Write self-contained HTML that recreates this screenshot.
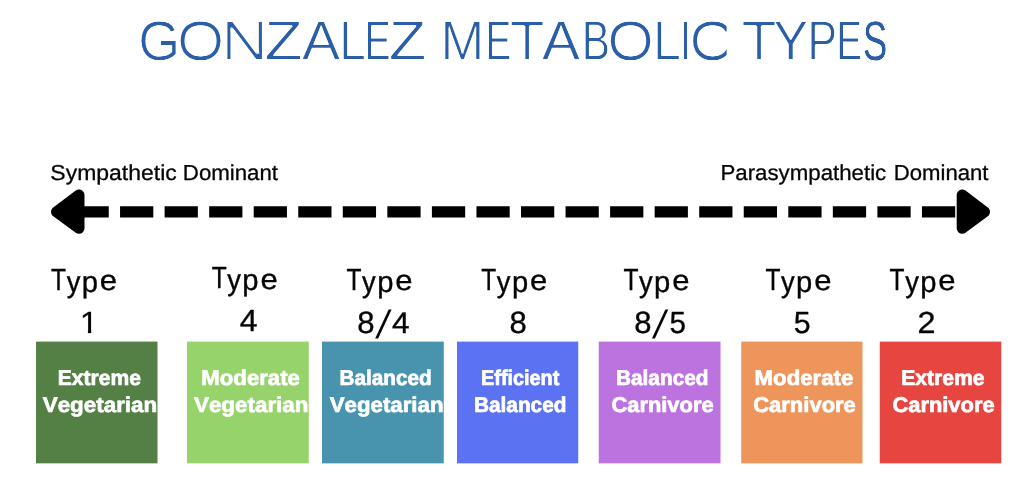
<!DOCTYPE html>
<html lang="en"><head><meta charset="utf-8"><title>Gonzalez Metabolic Types</title>
<style>
html,body{margin:0;padding:0;background:#fff;}
body{width:1024px;height:495px;overflow:hidden;}
svg{display:block;will-change:transform;font-family:"Liberation Sans",sans-serif;font-kerning:none;}
svg text{white-space:pre;text-rendering:geometricPrecision;}
</style></head><body>
<svg width="1024" height="495" viewBox="0 0 1024 495">
<rect width="1024" height="495" fill="#fff"/>
<defs><clipPath id="a0"><text transform="translate(138.78 59.70) scale(0.9727 1)" font-size="55.67">G</text></clipPath><clipPath id="b0"><text transform="translate(138.15 59.80) scale(0.9727 1)" font-size="55.67">G</text></clipPath><clipPath id="c0"><text transform="translate(138.15 59.60) scale(0.9727 1)" font-size="55.67">G</text></clipPath>
<clipPath id="a1"><text transform="translate(177.70 59.70) scale(1.1003 1)" font-size="55.67">O</text></clipPath><clipPath id="b1"><text transform="translate(176.74 59.80) scale(1.1003 1)" font-size="55.67">O</text></clipPath><clipPath id="c1"><text transform="translate(176.74 59.60) scale(1.1003 1)" font-size="55.67">O</text></clipPath>
<clipPath id="a2"><text transform="translate(221.97 59.70) scale(1.1890 1)" font-size="55.67">N</text></clipPath><clipPath id="b2"><text transform="translate(220.68 60.20) scale(1.1890 1)" font-size="55.67">N</text></clipPath><clipPath id="c2"><text transform="translate(220.68 59.20) scale(1.1890 1)" font-size="55.67">N</text></clipPath>
<clipPath id="a3"><text transform="translate(265.05 59.70) scale(1.1050 1)" font-size="55.67">Z</text></clipPath><clipPath id="b3"><text transform="translate(264.75 60.20) scale(1.1050 1)" font-size="55.67">Z</text></clipPath><clipPath id="c3"><text transform="translate(264.75 59.20) scale(1.1050 1)" font-size="55.67">Z</text></clipPath>
<clipPath id="a4"><text transform="translate(302.19 59.70) scale(1.0403 1)" font-size="55.67">A</text></clipPath><clipPath id="b4"><text transform="translate(301.74 60.20) scale(1.0403 1)" font-size="55.67">A</text></clipPath><clipPath id="c4"><text transform="translate(301.74 59.20) scale(1.0403 1)" font-size="55.67">A</text></clipPath>
<clipPath id="a5"><text transform="translate(339.78 59.70) scale(0.8577 1)" font-size="55.67">L</text></clipPath><clipPath id="b5"><text transform="translate(339.31 60.20) scale(0.8577 1)" font-size="55.67">L</text></clipPath><clipPath id="c5"><text transform="translate(339.31 59.20) scale(0.8577 1)" font-size="55.67">L</text></clipPath>
<clipPath id="a6"><text transform="translate(364.60 59.70) scale(0.7005 1)" font-size="55.67">E</text></clipPath><clipPath id="b6"><text transform="translate(364.53 60.20) scale(0.7005 1)" font-size="55.67">E</text></clipPath><clipPath id="c6"><text transform="translate(364.53 59.20) scale(0.7005 1)" font-size="55.67">E</text></clipPath>
<clipPath id="a7"><text transform="translate(389.28 59.70) scale(1.0886 1)" font-size="55.67">Z</text></clipPath><clipPath id="b7"><text transform="translate(388.98 60.20) scale(1.0886 1)" font-size="55.67">Z</text></clipPath><clipPath id="c7"><text transform="translate(388.98 59.20) scale(1.0886 1)" font-size="55.67">Z</text></clipPath>
<clipPath id="a8"><text transform="translate(441.07 59.70) scale(0.9486 1)" font-size="55.67">M</text></clipPath><clipPath id="b8"><text transform="translate(440.41 60.20) scale(0.9486 1)" font-size="55.67">M</text></clipPath><clipPath id="c8"><text transform="translate(440.41 59.20) scale(0.9486 1)" font-size="55.67">M</text></clipPath>
<clipPath id="a9"><text transform="translate(485.64 59.70) scale(0.6925 1)" font-size="55.67">E</text></clipPath><clipPath id="b9"><text transform="translate(485.59 60.20) scale(0.6925 1)" font-size="55.67">E</text></clipPath><clipPath id="c9"><text transform="translate(485.59 59.20) scale(0.6925 1)" font-size="55.67">E</text></clipPath>
<clipPath id="a10"><text transform="translate(510.51 59.70) scale(1.0310 1)" font-size="55.67">T</text></clipPath><clipPath id="b10"><text transform="translate(509.58 60.20) scale(1.0310 1)" font-size="55.67">T</text></clipPath><clipPath id="c10"><text transform="translate(509.58 59.20) scale(1.0310 1)" font-size="55.67">T</text></clipPath>
<clipPath id="a11"><text transform="translate(542.29 59.70) scale(1.0321 1)" font-size="55.67">A</text></clipPath><clipPath id="b11"><text transform="translate(541.84 60.20) scale(1.0321 1)" font-size="55.67">A</text></clipPath><clipPath id="c11"><text transform="translate(541.84 59.20) scale(1.0321 1)" font-size="55.67">A</text></clipPath>
<clipPath id="a12"><text transform="translate(581.92 59.70) scale(0.7611 1)" font-size="55.67">B</text></clipPath><clipPath id="b12"><text transform="translate(581.70 60.20) scale(0.7611 1)" font-size="55.67">B</text></clipPath><clipPath id="c12"><text transform="translate(581.70 59.20) scale(0.7611 1)" font-size="55.67">B</text></clipPath>
<clipPath id="a13"><text transform="translate(607.95 59.70) scale(1.0820 1)" font-size="55.67">O</text></clipPath><clipPath id="b13"><text transform="translate(607.04 59.80) scale(1.0820 1)" font-size="55.67">O</text></clipPath><clipPath id="c13"><text transform="translate(607.04 59.60) scale(1.0820 1)" font-size="55.67">O</text></clipPath>
<clipPath id="a14"><text transform="translate(653.55 59.70) scale(0.9094 1)" font-size="55.67">L</text></clipPath><clipPath id="b14"><text transform="translate(652.94 60.20) scale(0.9094 1)" font-size="55.67">L</text></clipPath><clipPath id="c14"><text transform="translate(652.94 59.20) scale(0.9094 1)" font-size="55.67">L</text></clipPath>
<clipPath id="a15"><text transform="translate(680.39 59.70) scale(0.6549 1)" font-size="55.67">I</text></clipPath><clipPath id="b15"><text transform="translate(680.39 60.20) scale(0.6549 1)" font-size="55.67">I</text></clipPath><clipPath id="c15"><text transform="translate(680.39 59.20) scale(0.6549 1)" font-size="55.67">I</text></clipPath>
<clipPath id="a16"><text transform="translate(689.88 59.70) scale(1.1043 1)" font-size="55.67">C</text></clipPath><clipPath id="b16"><text transform="translate(688.91 59.80) scale(1.1043 1)" font-size="55.67">C</text></clipPath><clipPath id="c16"><text transform="translate(688.91 59.60) scale(1.1043 1)" font-size="55.67">C</text></clipPath>
<clipPath id="d16"><rect x="680" y="0" width="46.60000000000002" height="80"/></clipPath>
<clipPath id="a17"><text transform="translate(742.30 59.70) scale(1.0386 1)" font-size="55.67">T</text></clipPath><clipPath id="b17"><text transform="translate(741.36 60.20) scale(1.0386 1)" font-size="55.67">T</text></clipPath><clipPath id="c17"><text transform="translate(741.36 59.20) scale(1.0386 1)" font-size="55.67">T</text></clipPath>
<clipPath id="a18"><text transform="translate(773.86 59.70) scale(0.9312 1)" font-size="55.67">Y</text></clipPath><clipPath id="b18"><text transform="translate(773.41 60.20) scale(0.9312 1)" font-size="55.67">Y</text></clipPath><clipPath id="c18"><text transform="translate(773.41 59.20) scale(0.9312 1)" font-size="55.67">Y</text></clipPath>
<clipPath id="a19"><text transform="translate(807.76 59.70) scale(0.7980 1)" font-size="55.67">P</text></clipPath><clipPath id="b19"><text transform="translate(807.43 60.20) scale(0.7980 1)" font-size="55.67">P</text></clipPath><clipPath id="c19"><text transform="translate(807.43 59.20) scale(0.7980 1)" font-size="55.67">P</text></clipPath>
<clipPath id="a20"><text transform="translate(836.24 59.70) scale(0.6925 1)" font-size="55.67">E</text></clipPath><clipPath id="b20"><text transform="translate(836.19 60.20) scale(0.6925 1)" font-size="55.67">E</text></clipPath><clipPath id="c20"><text transform="translate(836.19 59.20) scale(0.6925 1)" font-size="55.67">E</text></clipPath>
<clipPath id="b21"><text transform="translate(863.15 59.80) scale(0.6521 1)" font-size="55.67">S</text><text transform="translate(862.85 59.80) scale(0.6521 1)" font-size="55.67">S</text></clipPath><clipPath id="c21"><text transform="translate(863.15 59.60) scale(0.6521 1)" font-size="55.67">S</text><text transform="translate(862.85 59.60) scale(0.6521 1)" font-size="55.67">S</text></clipPath></defs>
<g fill="#2a5fa8">
<g clip-path="url(#a0)"><g clip-path="url(#b0)"><g clip-path="url(#c0)"><text transform="translate(137.53 59.70) scale(0.9727 1)" font-size="55.67">G</text></g></g></g>
<g clip-path="url(#a1)"><g clip-path="url(#b1)"><g clip-path="url(#c1)"><text transform="translate(175.79 59.70) scale(1.1003 1)" font-size="55.67">O</text></g></g></g>
<g clip-path="url(#a2)"><g clip-path="url(#b2)"><g clip-path="url(#c2)"><text transform="translate(219.40 59.70) scale(1.1890 1)" font-size="55.67">N</text></g></g></g>
<g clip-path="url(#a3)"><g clip-path="url(#b3)"><g clip-path="url(#c3)"><text transform="translate(264.45 59.70) scale(1.1050 1)" font-size="55.67">Z</text></g></g></g>
<g clip-path="url(#a4)"><g clip-path="url(#b4)"><g clip-path="url(#c4)"><text transform="translate(301.29 59.70) scale(1.0403 1)" font-size="55.67">A</text></g></g></g>
<g clip-path="url(#a5)"><g clip-path="url(#b5)"><g clip-path="url(#c5)"><text transform="translate(338.83 59.70) scale(0.8577 1)" font-size="55.67">L</text></g></g></g>
<g clip-path="url(#a6)"><g clip-path="url(#b6)"><g clip-path="url(#c6)"><text transform="translate(364.46 59.70) scale(0.7005 1)" font-size="55.67">E</text></g></g></g>
<g clip-path="url(#a7)"><g clip-path="url(#b7)"><g clip-path="url(#c7)"><text transform="translate(388.68 59.70) scale(1.0886 1)" font-size="55.67">Z</text></g></g></g>
<g clip-path="url(#a8)"><g clip-path="url(#b8)"><g clip-path="url(#c8)"><text transform="translate(439.74 59.70) scale(0.9486 1)" font-size="55.67">M</text></g></g></g>
<g clip-path="url(#a9)"><g clip-path="url(#b9)"><g clip-path="url(#c9)"><text transform="translate(485.54 59.70) scale(0.6925 1)" font-size="55.67">E</text></g></g></g>
<g clip-path="url(#a10)"><g clip-path="url(#b10)"><g clip-path="url(#c10)"><text transform="translate(508.66 59.70) scale(1.0310 1)" font-size="55.67">T</text></g></g></g>
<g clip-path="url(#a11)"><g clip-path="url(#b11)"><g clip-path="url(#c11)"><text transform="translate(541.39 59.70) scale(1.0321 1)" font-size="55.67">A</text></g></g></g>
<g clip-path="url(#a12)"><g clip-path="url(#b12)"><g clip-path="url(#c12)"><text transform="translate(581.47 59.70) scale(0.7611 1)" font-size="55.67">B</text></g></g></g>
<g clip-path="url(#a13)"><g clip-path="url(#b13)"><g clip-path="url(#c13)"><text transform="translate(606.13 59.70) scale(1.0820 1)" font-size="55.67">O</text></g></g></g>
<g clip-path="url(#a14)"><g clip-path="url(#b14)"><g clip-path="url(#c14)"><text transform="translate(652.33 59.70) scale(0.9094 1)" font-size="55.67">L</text></g></g></g>
<g clip-path="url(#a15)"><g clip-path="url(#b15)"><g clip-path="url(#c15)"><text transform="translate(680.39 59.70) scale(0.6549 1)" font-size="55.67">I</text></g></g></g>
<g clip-path="url(#d16)"><g clip-path="url(#a16)"><g clip-path="url(#b16)"><g clip-path="url(#c16)"><text transform="translate(687.94 59.70) scale(1.1043 1)" font-size="55.67">C</text></g></g></g></g>
<g clip-path="url(#a17)"><g clip-path="url(#b17)"><g clip-path="url(#c17)"><text transform="translate(740.41 59.70) scale(1.0386 1)" font-size="55.67">T</text></g></g></g>
<g clip-path="url(#a18)"><g clip-path="url(#b18)"><g clip-path="url(#c18)"><text transform="translate(772.96 59.70) scale(0.9312 1)" font-size="55.67">Y</text></g></g></g>
<g clip-path="url(#a19)"><g clip-path="url(#b19)"><g clip-path="url(#c19)"><text transform="translate(807.11 59.70) scale(0.7980 1)" font-size="55.67">P</text></g></g></g>
<g clip-path="url(#a20)"><g clip-path="url(#b20)"><g clip-path="url(#c20)"><text transform="translate(836.14 59.70) scale(0.6925 1)" font-size="55.67">E</text></g></g></g>
<g clip-path="url(#b21)"><g clip-path="url(#c21)"><text transform="translate(863.15 59.70) scale(0.6521 1)" font-size="55.67">S</text><text transform="translate(862.85 59.70) scale(0.6521 1)" font-size="55.67">S</text></g></g>
</g>
<text transform="translate(50.36 180.45) scale(1.0603 1)" font-size="21.66" font-weight="400" fill="#050505" stroke="#050505" stroke-width="0.291" stroke-linejoin="round">Sympathetic</text>
<text transform="translate(182.83 180.45) scale(1.0270 1)" font-size="21.66" font-weight="400" fill="#050505" stroke="#050505" stroke-width="0.296" stroke-linejoin="round">Dominant</text>
<text transform="translate(720.42 180.45) scale(1.0280 1)" font-size="21.66" font-weight="400" fill="#050505" stroke="#050505" stroke-width="0.296" stroke-linejoin="round">Parasympathetic</text>
<text transform="translate(893.73 180.45) scale(1.0225 1)" font-size="21.66" font-weight="400" fill="#050505" stroke="#050505" stroke-width="0.297" stroke-linejoin="round">Dominant</text>
<line x1="75.5" y1="211.85" x2="960" y2="211.85" stroke="#000" stroke-width="11.1" stroke-dasharray="33.25 11.3"/>
<polygon points="56.5,211.85 79.0,195.0 79.0,228.25" fill="#000" stroke="#000" stroke-width="11.0" stroke-linejoin="round"/>
<polygon points="984.5,211.85 962.2,195.0 962.2,228.25" fill="#000" stroke="#000" stroke-width="11.0" stroke-linejoin="round"/>
<text transform="translate(51.12 290.12) scale(0.2449 0.3045)" font-size="100" font-weight="400" fill="#050505" stroke="#050505" stroke-width="1.274" stroke-linejoin="round">T</text>
<text transform="translate(66.71 291.61) scale(0.2734 0.2997)" font-size="100" font-weight="400" fill="#050505" stroke="#050505" stroke-width="1.222" stroke-linejoin="round">y</text>
<text transform="translate(81.79 291.60) scale(0.2924 0.3000)" font-size="100" font-weight="400" fill="#050505" stroke="#050505" stroke-width="1.182" stroke-linejoin="round">p</text>
<text transform="translate(99.86 290.45) scale(0.3101 0.2857)" font-size="100" font-weight="400" fill="#050505" stroke="#050505" stroke-width="1.175" stroke-linejoin="round">e</text>
<text transform="translate(211.67 288.43) scale(0.2449 0.3045)" font-size="100" font-weight="400" fill="#050505" stroke="#050505" stroke-width="1.274" stroke-linejoin="round">T</text>
<text transform="translate(227.26 289.91) scale(0.2734 0.2997)" font-size="100" font-weight="400" fill="#050505" stroke="#050505" stroke-width="1.222" stroke-linejoin="round">y</text>
<text transform="translate(242.34 289.90) scale(0.2924 0.3000)" font-size="100" font-weight="400" fill="#050505" stroke="#050505" stroke-width="1.182" stroke-linejoin="round">p</text>
<text transform="translate(260.41 288.75) scale(0.3101 0.2857)" font-size="100" font-weight="400" fill="#050505" stroke="#050505" stroke-width="1.175" stroke-linejoin="round">e</text>
<text transform="translate(346.52 290.12) scale(0.2449 0.3045)" font-size="100" font-weight="400" fill="#050505" stroke="#050505" stroke-width="1.274" stroke-linejoin="round">T</text>
<text transform="translate(362.11 291.61) scale(0.2734 0.2997)" font-size="100" font-weight="400" fill="#050505" stroke="#050505" stroke-width="1.222" stroke-linejoin="round">y</text>
<text transform="translate(377.19 291.60) scale(0.2924 0.3000)" font-size="100" font-weight="400" fill="#050505" stroke="#050505" stroke-width="1.182" stroke-linejoin="round">p</text>
<text transform="translate(395.26 290.45) scale(0.3101 0.2857)" font-size="100" font-weight="400" fill="#050505" stroke="#050505" stroke-width="1.175" stroke-linejoin="round">e</text>
<text transform="translate(481.22 290.12) scale(0.2449 0.3045)" font-size="100" font-weight="400" fill="#050505" stroke="#050505" stroke-width="1.274" stroke-linejoin="round">T</text>
<text transform="translate(496.81 291.61) scale(0.2734 0.2997)" font-size="100" font-weight="400" fill="#050505" stroke="#050505" stroke-width="1.222" stroke-linejoin="round">y</text>
<text transform="translate(511.89 291.60) scale(0.2924 0.3000)" font-size="100" font-weight="400" fill="#050505" stroke="#050505" stroke-width="1.182" stroke-linejoin="round">p</text>
<text transform="translate(529.96 290.45) scale(0.3101 0.2857)" font-size="100" font-weight="400" fill="#050505" stroke="#050505" stroke-width="1.175" stroke-linejoin="round">e</text>
<text transform="translate(623.42 290.12) scale(0.2449 0.3045)" font-size="100" font-weight="400" fill="#050505" stroke="#050505" stroke-width="1.274" stroke-linejoin="round">T</text>
<text transform="translate(639.01 291.61) scale(0.2734 0.2997)" font-size="100" font-weight="400" fill="#050505" stroke="#050505" stroke-width="1.222" stroke-linejoin="round">y</text>
<text transform="translate(654.09 291.60) scale(0.2924 0.3000)" font-size="100" font-weight="400" fill="#050505" stroke="#050505" stroke-width="1.182" stroke-linejoin="round">p</text>
<text transform="translate(672.16 290.45) scale(0.3101 0.2857)" font-size="100" font-weight="400" fill="#050505" stroke="#050505" stroke-width="1.175" stroke-linejoin="round">e</text>
<text transform="translate(765.42 290.12) scale(0.2449 0.3045)" font-size="100" font-weight="400" fill="#050505" stroke="#050505" stroke-width="1.274" stroke-linejoin="round">T</text>
<text transform="translate(781.01 291.61) scale(0.2734 0.2997)" font-size="100" font-weight="400" fill="#050505" stroke="#050505" stroke-width="1.222" stroke-linejoin="round">y</text>
<text transform="translate(796.09 291.60) scale(0.2924 0.3000)" font-size="100" font-weight="400" fill="#050505" stroke="#050505" stroke-width="1.182" stroke-linejoin="round">p</text>
<text transform="translate(814.16 290.45) scale(0.3101 0.2857)" font-size="100" font-weight="400" fill="#050505" stroke="#050505" stroke-width="1.175" stroke-linejoin="round">e</text>
<text transform="translate(889.62 290.12) scale(0.2449 0.3045)" font-size="100" font-weight="400" fill="#050505" stroke="#050505" stroke-width="1.274" stroke-linejoin="round">T</text>
<text transform="translate(905.21 291.61) scale(0.2734 0.2997)" font-size="100" font-weight="400" fill="#050505" stroke="#050505" stroke-width="1.222" stroke-linejoin="round">y</text>
<text transform="translate(920.29 291.60) scale(0.2924 0.3000)" font-size="100" font-weight="400" fill="#050505" stroke="#050505" stroke-width="1.182" stroke-linejoin="round">p</text>
<text transform="translate(938.36 290.45) scale(0.3101 0.2857)" font-size="100" font-weight="400" fill="#050505" stroke="#050505" stroke-width="1.175" stroke-linejoin="round">e</text>
<clipPath id="k1"><polygon points="7.32,-10.74 24.56,-10.74 24.56,1.46 34.77,1.46 34.77,-73.24 7.32,-73.24"/></clipPath><text transform="translate(79.71 333.12) scale(0.3349 0.3045)" font-size="100" font-weight="400" fill="#050505" stroke="#050505" stroke-width="1.095" stroke-linejoin="round" clip-path="url(#k1)">1</text>
<text transform="translate(239.84 331.12) scale(0.3205 0.3045)" font-size="100" font-weight="400" fill="#050505" stroke="#050505" stroke-width="1.120" stroke-linejoin="round">4</text>
<text transform="translate(357.32 333.12) scale(0.3111 0.3079)" font-size="100" font-weight="400" fill="#050505" stroke="#050505" stroke-width="1.131" stroke-linejoin="round">8</text>
<text transform="matrix(0.3793 0 -0.08019 0.3949 375.178 338.214)" font-size="100" fill="#050505">/</text>
<text transform="translate(392.05 332.72) scale(0.3165 0.2987)" font-size="100" font-weight="400" fill="#050505" stroke="#050505" stroke-width="1.138" stroke-linejoin="round">4</text>
<text transform="translate(509.53 333.12) scale(0.3101 0.3079)" font-size="100" font-weight="400" fill="#050505" stroke="#050505" stroke-width="1.133" stroke-linejoin="round">8</text>
<text transform="translate(634.13 333.12) scale(0.3101 0.3079)" font-size="100" font-weight="400" fill="#050505" stroke="#050505" stroke-width="1.133" stroke-linejoin="round">8</text>
<text transform="matrix(0.3793 0 -0.07883 0.3949 652.077 338.214)" font-size="100" fill="#050505">/</text>
<text transform="translate(669.49 333.13) scale(0.2963 0.3045)" font-size="100" font-weight="400" fill="#050505" stroke="#050505" stroke-width="1.165" stroke-linejoin="round">5</text>
<text transform="translate(793.86 333.13) scale(0.3027 0.3045)" font-size="100" font-weight="400" fill="#050505" stroke="#050505" stroke-width="1.153" stroke-linejoin="round">5</text>
<text transform="translate(917.45 332.88) scale(0.3238 0.3043)" font-size="100" font-weight="400" fill="#050505" stroke="#050505" stroke-width="1.114" stroke-linejoin="round">2</text>
<rect x="36" y="341.6" width="121.50" height="121.75" fill="#548046"/>
<text transform="translate(57.69 384.95) scale(0.9864 1)" font-size="21.37" font-weight="700" fill="#fff" stroke="#fff" stroke-width="0.705" stroke-linejoin="round">Extreme</text>
<text transform="translate(42.70 411.70) scale(1.0525 1)" font-size="21.29" font-weight="700" fill="#fff" stroke="#fff" stroke-width="0.682" stroke-linejoin="round">Vegetarian</text>
<rect x="187" y="341.6" width="121.75" height="121.75" fill="#96d46b"/>
<text transform="translate(201.37 384.95) scale(1.0375 1)" font-size="21.37" font-weight="700" fill="#fff" stroke="#fff" stroke-width="0.687" stroke-linejoin="round">Moderate</text>
<text transform="translate(193.95 411.70) scale(1.0525 1)" font-size="21.29" font-weight="700" fill="#fff" stroke="#fff" stroke-width="0.682" stroke-linejoin="round">Vegetarian</text>
<rect x="322" y="341.6" width="121.75" height="121.75" fill="#4894ae"/>
<text transform="translate(339.46 384.95) scale(0.9716 1)" font-size="21.37" font-weight="700" fill="#fff" stroke="#fff" stroke-width="0.710" stroke-linejoin="round">Balanced</text>
<text transform="translate(329.70 411.70) scale(1.0455 1)" font-size="21.29" font-weight="700" fill="#fff" stroke="#fff" stroke-width="0.684" stroke-linejoin="round">Vegetarian</text>
<rect x="457" y="341.6" width="121.25" height="121.75" fill="#5b73f2"/>
<text transform="translate(481.02 384.95) scale(0.9298 1)" font-size="21.37" font-weight="700" fill="#fff" stroke="#fff" stroke-width="0.725" stroke-linejoin="round">Efficient</text>
<text transform="translate(473.96 411.70) scale(0.9777 1)" font-size="21.29" font-weight="700" fill="#fff" stroke="#fff" stroke-width="0.708" stroke-linejoin="round">Balanced</text>
<rect x="598.75" y="341.6" width="121.75" height="121.75" fill="#bc72df"/>
<text transform="translate(615.96 384.95) scale(0.9743 1)" font-size="21.37" font-weight="700" fill="#fff" stroke="#fff" stroke-width="0.709" stroke-linejoin="round">Balanced</text>
<text transform="translate(611.45 411.70) scale(1.0280 1)" font-size="21.29" font-weight="700" fill="#fff" stroke="#fff" stroke-width="0.690" stroke-linejoin="round">Carnivore</text>
<rect x="741.25" y="341.6" width="121.25" height="121.75" fill="#ee955b"/>
<text transform="translate(754.61 384.95) scale(1.0402 1)" font-size="21.37" font-weight="700" fill="#fff" stroke="#fff" stroke-width="0.686" stroke-linejoin="round">Moderate</text>
<text transform="translate(753.20 411.70) scale(1.0331 1)" font-size="21.29" font-weight="700" fill="#fff" stroke="#fff" stroke-width="0.689" stroke-linejoin="round">Carnivore</text>
<rect x="879.75" y="341.6" width="121.50" height="121.75" fill="#e7453f"/>
<text transform="translate(901.19 384.95) scale(0.9894 1)" font-size="21.37" font-weight="700" fill="#fff" stroke="#fff" stroke-width="0.704" stroke-linejoin="round">Extreme</text>
<text transform="translate(892.45 411.70) scale(1.0280 1)" font-size="21.29" font-weight="700" fill="#fff" stroke="#fff" stroke-width="0.690" stroke-linejoin="round">Carnivore</text>
</svg>
</body></html>
